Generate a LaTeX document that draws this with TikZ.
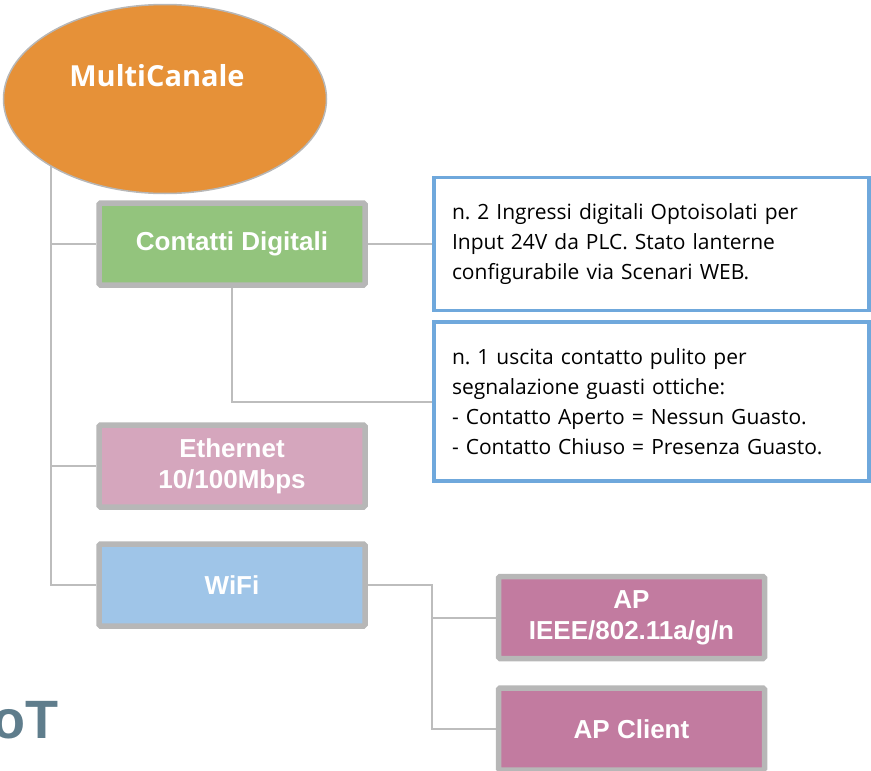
\documentclass[tikz,border=0pt]{standalone}
\usepackage{fontspec}
\setmainfont{Open Sans}
\newfontfamily\arialfont{Liberation Sans}
\usetikzlibrary{shapes.geometric,backgrounds,positioning}
\frenchspacing
\definecolor{cOrange}{HTML}{E69138}
\definecolor{cGreen}{HTML}{93C47D}
\definecolor{cPink}{HTML}{D5A6BD}
\definecolor{cSky}{HTML}{9FC5E8}
\definecolor{cMauve}{HTML}{C27BA0}
\definecolor{cBorder}{HTML}{B7B7B7}
\definecolor{cBlue}{HTML}{6FA8DC}
\definecolor{cLink}{HTML}{BDBDBD}
\definecolor{cSlate}{HTML}{5F7D8C}
\tikzset{
	channel/.style={
			draw=cBorder, line width=5.5pt, rounded corners=1.5pt,
			minimum width=266pt, minimum height=82pt, inner sep=0pt,
			text=white, align=center,
			font=\arialfont\bfseries\fontsize{26}{31}\selectfont
		},
	info/.style={
			draw=cBlue, line width=3.5pt, minimum width=435pt,
			text width=399pt, inner xsep=18pt, align=left,
			font=\fontsize{21}{30}\selectfont
		},
	link/.style={draw=cLink, line width=2pt}
}

\begin{document}
\begin{tikzpicture}[x=1pt,y=-1pt]
	\useasboundingbox (0,0) rectangle (871,771);

	% main ellipse and its title
	\node[ellipse, draw=cBorder, line width=1.5pt, fill=cOrange,
		minimum width=323pt, minimum height=189pt, inner sep=0pt] (multi) at (165,99) {};
	\node[text=white, font=\bfseries\fontsize{29}{34}\selectfont] (multilbl)
		at ([shift={(-8,-23)}]multi.center) {MultiCanale};

	% channels
	\node[channel, fill=cGreen] (contatti) at (232,244) {Contatti Digitali};
	\node[channel, fill=cPink] (eth) at (232,466) {Ethernet\\10/100Mbps};
	\node[channel, fill=cSky] (wifi) at (232,585) {WiFi};

	% descriptions
	\node[info, minimum height=133pt] (info1) at (651.5,244)
		{n. 2 Ingressi digitali Optoisolati per\\Input 24V da PLC. Stato lanterne\\configurabile via Scenari WEB.\\[10pt]};
	\node[info, minimum height=159pt] (info2) at (651.5,401.5)
		{n. 1 uscita contatto pulito per\\segnalazione guasti ottiche:\\- Contatto Aperto = Nessun Guasto.\\- Contatto Chiuso = Presenza Guasto.\\[10pt]};

	% wifi modes
	\node[channel, fill=cMauve] (ap) at (631.5,617.5) {AP\\IEEE/802.11a/g/n};
	\node[channel, fill=cMauve] (apc) at (631.5,729) {AP Client};

	\node[anchor=base east, inner sep=0pt, text=cSlate,
		font=\arialfont\bfseries\fontsize{54}{60}\selectfont] (iot) at (59,738) {oT};

	% connectors
	\coordinate (trunk) at (51,150);
	\coordinate (split) at (432,585);
	\begin{pgfonlayer}{background}
		\draw[link] (trunk) |- (wifi.west);
		\draw[link] (trunk |- contatti.west) -- (contatti.west);
		\draw[link] (trunk |- eth.west) -- (eth.west);
		\draw[link] (contatti.east) -- (info1.west);
		\draw[link] (contatti.south) |- (info2.west);
		\draw[link] (wifi.east) -- (split) |- (apc.west);
		\draw[link] (split |- ap.west) -- (ap.west);
	\end{pgfonlayer}
\end{tikzpicture}
\end{document}
